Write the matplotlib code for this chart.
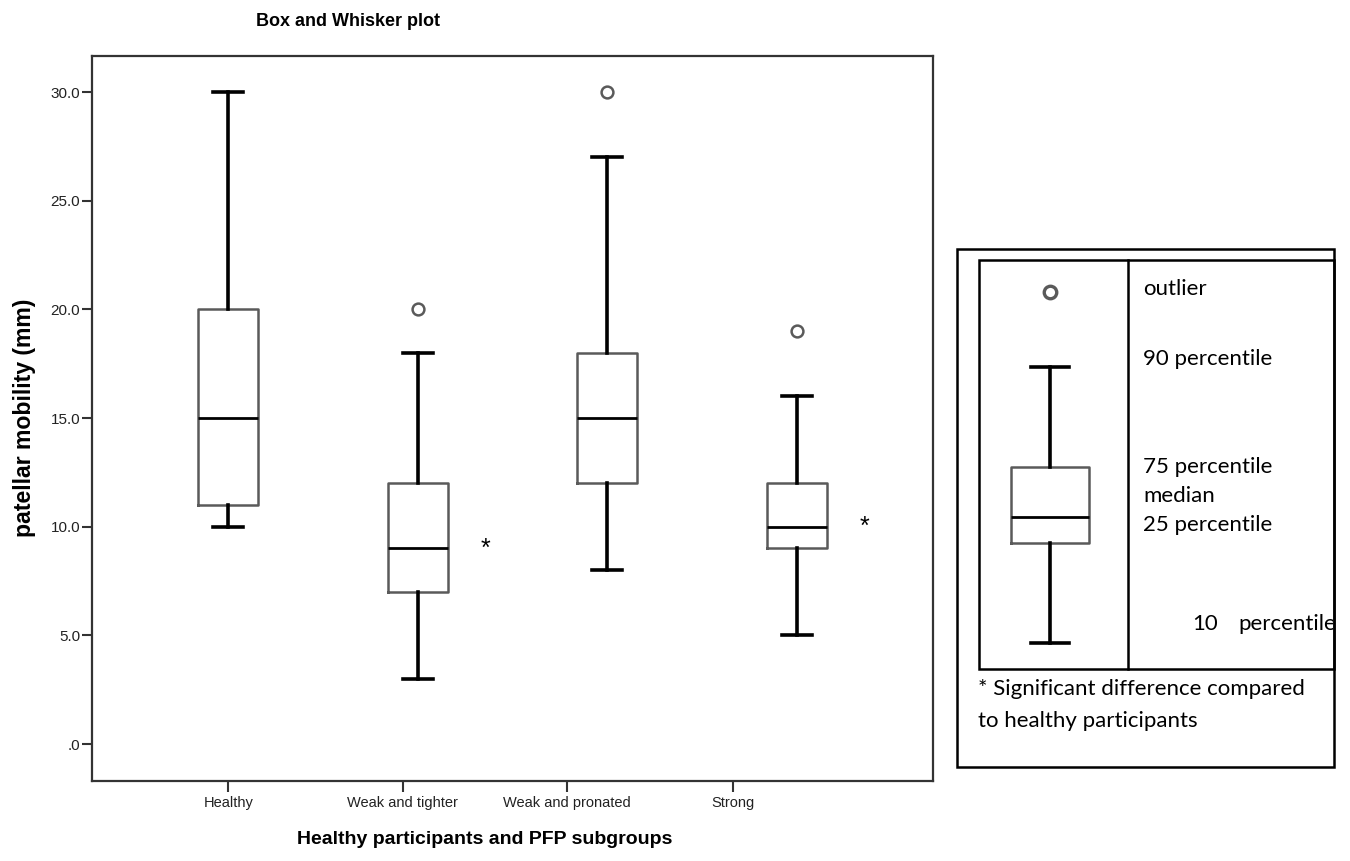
import numpy as np
import matplotlib
matplotlib.use("Agg")
import matplotlib.pyplot as plt
from matplotlib.patches import Rectangle
from matplotlib.lines import Line2D

# ---------------- data ----------------
categories = ["Healthy", "Weak and tighter", "Weak and pronated", "Strong"]
whisker_low = [10, 3, 8, 5]
q1 = [11, 7, 12, 9]
median = [15, 9, 15, 10]
q3 = [20, 12, 18, 12]
whisker_high = [30, 18, 27, 16]
outliers = [[], [20], [30], [19]]
significant = [False, True, False, True]

y_ticks = [0, 5, 10, 15, 20, 25, 30]
y_tick_labels = [".0", "5.0", "10.0", "15.0", "20.0", "25.0", "30.0"]

# legend key (schematic values, arbitrary units)
key_outlier = [377]
key_low, key_q1, key_med, key_q3, key_high = 26, 126, 152, 202, 302
key_labels = ["outlier", "90 percentile", "75 percentile", "median", "25 percentile"]

# ---------------- figure ----------------
W, H = 1350, 861
fig = plt.figure(figsize=(W / 100, H / 100), dpi=100)

def px_axes(x0, y0, x1, y1):
    return [x0 / W, 1 - y1 / H, (x1 - x0) / W, (y1 - y0) / H]

ax = fig.add_axes(px_axes(92, 56, 933, 781))

positions = [1, 2, 3, 4]
stats = []
for i, c in enumerate(categories):
    stats.append(dict(label=c, whislo=whisker_low[i], q1=q1[i], med=median[i],
                      q3=q3[i], whishi=whisker_high[i], fliers=np.array(outliers[i])))

box_col = "#5a5a5a"
ax.bxp(stats, positions=positions, widths=0.317, capwidths=0.158,
       boxprops=dict(color=box_col, lw=1.8),
       whiskerprops=dict(color="black", lw=2.6),
       capprops=dict(color="black", lw=2.6),
       medianprops=dict(color="black", lw=2.0),
       flierprops=dict(marker="o", markerfacecolor="white", markeredgecolor=box_col,
                       markersize=8.5, markeredgewidth=1.8),
       manage_ticks=False)

ax.set_xlim(0.28, 4.72)
ax.set_ylim(-1.70, 31.66)

# significance asterisks
for i, s in enumerate(significant):
    if s:
        ax.text(positions[i] + 0.36, median[i], "*", fontsize=18, family="Liberation Sans",
                ha="center", va="center", color="black")

# ticks (tick labels sit left of the box centres in the original)
tick_offsets = [0.0, -0.079, -0.212, -0.338]
ax.set_xticks([p + o for p, o in zip(positions, tick_offsets)])
ax.set_xticklabels(categories, fontsize=10.5, family="Liberation Sans", color="#222222")
ax.set_yticks(y_ticks)
ax.set_yticklabels(y_tick_labels, fontsize=11, family="Liberation Sans", color="#222222")
ax.tick_params(axis="y", length=7.5, width=1.5, color="#333333", pad=1)
ax.tick_params(axis="x", length=8, width=1.5, color="#333333", pad=3)
for sp in ax.spines.values():
    sp.set_color("#333333")
    sp.set_linewidth(1.6)

fig.text(347.5 / W, 1 - 22 / H, "Box and Whisker plot", fontsize=13, fontweight="bold",
         family="Liberation Sans", ha="center", va="center")
fig.text(485 / W, 1 - 840 / H, "Healthy participants and PFP subgroups", fontsize=14,
         fontweight="bold", family="Liberation Sans", ha="center", va="center")
fig.text(25 / W, 1 - 418 / H, "patellar mobility (mm)", fontsize=16.6, fontweight="bold",
         family="Liberation Sans", ha="center", va="center", rotation=90)

# ---------------- legend panel ----------------
ov = fig.add_axes([0, 0, 1, 1], zorder=5)
ov.set_xlim(0, W)
ov.set_ylim(H, 0)
ov.axis("off")
ov.patch.set_alpha(0)
lw = 1.8
ov.add_patch(Rectangle((957, 249), 1334 - 957, 767 - 249, fill=False, ec="black", lw=lw))
inner = Rectangle((979, 260), 1334 - 979, 669 - 260, fill=False, ec="black", lw=lw)
ov.add_patch(inner)
ov.add_line(Line2D([1128, 1128], [260, 669], color="black", lw=lw))

lf = "Lato"
fs = 16
text_y = [289, 359, 467, 496, 525]
for lbl, yy in zip(key_labels, text_y):
    ov.text(1143, yy, lbl, fontsize=fs, family=lf, ha="left", va="center")
ov.text(1192, 624, "10", fontsize=fs, family=lf, ha="left", va="center")
pt = ov.text(1238, 624, "percentile", fontsize=fs, family=lf, ha="left", va="center")
clip_rect = Rectangle((979, 260), 1333 - 979, 669 - 260, transform=ov.transData,
                      fill=False, visible=False)
ov.add_patch(clip_rect)
pt.set_clip_path(clip_rect)
pt.set_clip_on(True)
ov.text(978, 689, "* Significant difference compared", fontsize=fs, family=lf, ha="left", va="center")
ov.text(978, 721, "to healthy participants", fontsize=fs, family=lf, ha="left", va="center")

kax = fig.add_axes(px_axes(979, 260, 1128, 669), zorder=6)
kax.patch.set_alpha(0)
kax.bxp([dict(whislo=key_low, q1=key_q1, med=key_med, q3=key_q3, whishi=key_high,
              fliers=np.array(key_outlier))],
        positions=[0.477], widths=0.523, capwidths=0.26,
        boxprops=dict(color=box_col, lw=1.8),
        whiskerprops=dict(color="black", lw=2.6),
        capprops=dict(color="black", lw=2.6),
        medianprops=dict(color="black", lw=2.0),
        flierprops=dict(marker="o", markerfacecolor="white", markeredgecolor=box_col,
                        markersize=9, markeredgewidth=2.4),
        manage_ticks=False)
kax.set_xlim(0, 1)
kax.set_ylim(0, 409)
kax.axis("off")

fig.savefig("out.png", dpi=100)
